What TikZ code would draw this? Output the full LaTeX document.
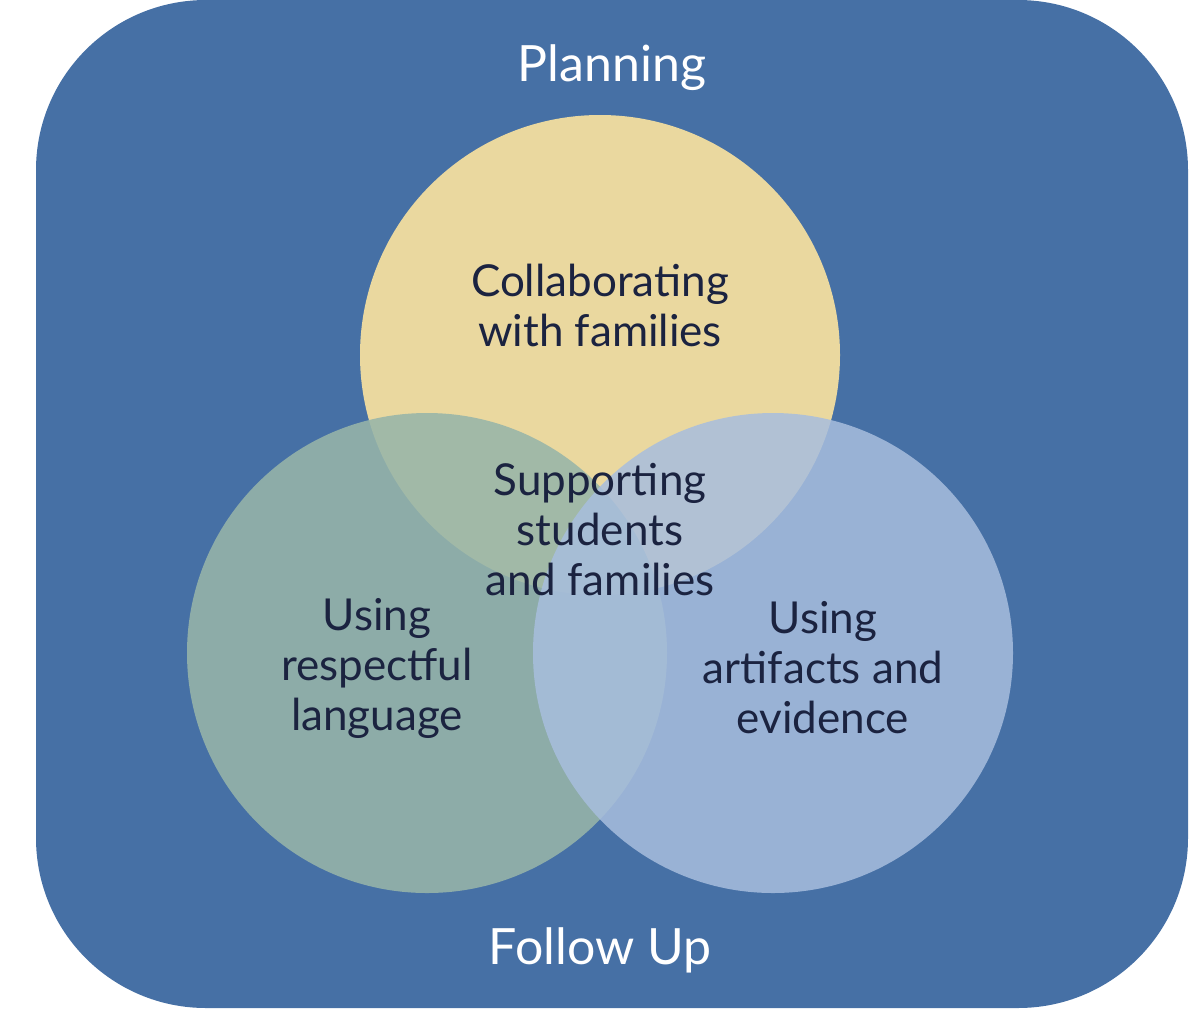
\documentclass[tikz,border=0pt]{standalone}
\usepackage{fontspec}
\setmainfont{Lato}
\definecolor{bg}{RGB}{70,112,165}
\definecolor{yel}{RGB}{234,216,159}
\definecolor{grn}{RGB}{151,181,169}
\definecolor{lbl}{RGB}{168,190,222}
\definecolor{ink}{RGB}{27,35,64}
\begin{document}
\begin{tikzpicture}[x=1pt,y=-1pt,
  lab/.style={font=\fontsize{44}{50}\selectfont,text=ink,align=center},
  ttl/.style={font=\fontsize{50}{56}\selectfont,text=white}]
\useasboundingbox (0,0) rectangle (1200,1013);
\fill[bg,rounded corners=170pt] (36,0) rectangle (1188,1008);
\fill[yel] (600,355) circle (240);
\fill[grn,fill opacity=0.88] (427,653) circle (240);
\fill[lbl,fill opacity=0.85] (773,653) circle (240);
\node[ttl] (plan) at (612,68) {Planning};
\node[ttl] (fol) at (600,950) {Follow Up};
\node[lab] (col) at (600,305) {Collaborating\\with families};
\node[lab] (sup) at (600,530) {Supporting\\students\\and families};
\node[lab] (res) at (377,668) {Using\\respectful\\language};
\node[lab] (art) at (823,668) {Using\\artifacts and\\evidence};
\end{tikzpicture}
\end{document}
